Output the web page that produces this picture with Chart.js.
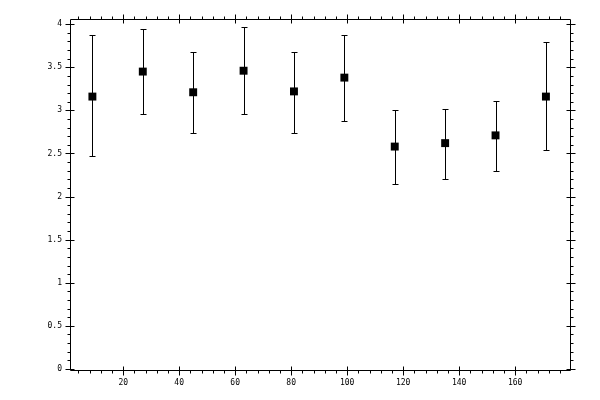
<!DOCTYPE html>
<html>
<head>
<meta charset="utf-8">
<script src="https://cdn.jsdelivr.net/npm/chart.js@4"></script>
<style>
  html, body { margin: 0; padding: 0; background: #fff; }
</style>
</head>
<body>
<canvas id="chartCanvas" width="600" height="400"></canvas>
<script>
const xValues = [9, 27, 45, 63, 81, 99, 117, 135, 153, 171];
const yValues = [3.16, 3.45, 3.21, 3.46, 3.22, 3.38, 2.58, 2.62, 2.71, 3.16];
const yUpper = [3.87, 3.94, 3.68, 3.97, 3.68, 3.88, 3.01, 3.02, 3.11, 3.79];
const yLower = [2.47, 2.96, 2.74, 2.96, 2.74, 2.88, 2.15, 2.20, 2.30, 2.54];

const xTickValues = [20, 40, 60, 80, 100, 120, 140, 160];
const xTickLabels = ["20", "40", "60", "80", "100", "120", "140", "160"];
const yTickValues = [0, 0.5, 1, 1.5, 2, 2.5, 3, 3.5, 4];
const yTickLabels = ["0", "0.5", "1", "1.5", "2", "2.5", "3", "3.5", "4"];

const crisp = v => Math.round(v) + 0.5;

// error bars under the markers
const errorBars = {
  id: "errorBars",
  beforeDatasetsDraw(chart) {
    const { ctx, scales: { x, y } } = chart;
    ctx.save();
    ctx.strokeStyle = "#000";
    ctx.lineWidth = 1;
    xValues.forEach((xv, i) => {
      const px = crisp(x.getPixelForValue(xv));
      const top = Math.round(y.getPixelForValue(yUpper[i])) + 0.5;
      const bot = Math.round(y.getPixelForValue(yLower[i])) + 0.5;
      ctx.beginPath();
      ctx.moveTo(px, top); ctx.lineTo(px, bot);
      ctx.moveTo(px - 3, top); ctx.lineTo(px + 3, top);
      ctx.moveTo(px - 3, bot); ctx.lineTo(px + 3, bot);
      ctx.stroke();
    });
    ctx.restore();
  }
};

// box frame with ticks on all four sides
const frame = {
  id: "frame",
  afterDraw(chart) {
    const { ctx, chartArea: a, scales: { x, y } } = chart;
    const L = crisp(a.left), R = crisp(a.right), T = crisp(a.top), B = crisp(a.bottom);
    ctx.save();
    ctx.strokeStyle = "#000";
    ctx.lineWidth = 1;
    ctx.beginPath();
    ctx.rect(L, T, R - L, B - T);

    for (let v = 4; v <= x.max; v += 4) {
      const px = crisp(x.getPixelForValue(v));
      if (px <= L || px >= R) continue;
      const major = v % 20 === 0;
      ctx.moveTo(px, B - (major ? 4 : 0)); ctx.lineTo(px, B + (major ? 5 : 3));
      ctx.moveTo(px, T + (major ? 4 : 0)); ctx.lineTo(px, T - (major ? 5 : 3));
    }
    for (let k = 0; k <= 40; k++) {
      const v = k / 10;
      const py = crisp(y.getPixelForValue(v));
      if (py < T || py > B) continue;
      const major = k % 5 === 0;
      ctx.moveTo(L + (major ? 4 : 0), py); ctx.lineTo(L - (major ? 5 : 3), py);
      ctx.moveTo(R - (major ? 4 : 0), py); ctx.lineTo(R + (major ? 5 : 3), py);
    }
    ctx.stroke();
    ctx.restore();
  }
};

const tickFont = { family: "'DejaVu Sans Mono', monospace", size: 8 };

new Chart(document.getElementById("chartCanvas"), {
  type: "scatter",
  data: {
    datasets: [{
      data: xValues.map((xv, i) => ({ x: xv, y: yValues[i] })),
      pointStyle: "rect",
      pointRadius: 5.6,
      pointHoverRadius: 5.6,
      backgroundColor: "#000",
      borderColor: "#000",
      borderWidth: 0
    }]
  },
  options: {
    responsive: false,
    animation: false,
    layout: { padding: { top: 19, right: 30, left: 0, bottom: 0 } },
    plugins: { legend: { display: false }, tooltip: { enabled: false } },
    scales: {
      x: {
        type: "linear",
        min: 1,
        max: 179.6,
        border: { display: false },
        grid: { display: false, drawTicks: false },
        afterBuildTicks: s => { s.ticks = xTickValues.map(v => ({ value: v })); },
        afterFit: s => { s.height = 30; },
        ticks: {
          color: "#000",
          font: tickFont,
          padding: 8,
          maxRotation: 0,
          autoSkip: false,
          callback: (v, i) => xTickLabels[i]
        }
      },
      y: {
        type: "linear",
        min: -0.012,
        max: 4.06,
        border: { display: false },
        grid: { display: false, drawTicks: false },
        afterBuildTicks: s => { s.ticks = yTickValues.map(v => ({ value: v })); },
        afterFit: s => { s.width = 70; },
        ticks: {
          color: "#000",
          font: tickFont,
          padding: 8,
          autoSkip: false,
          callback: (v, i) => yTickLabels[i]
        }
      }
    }
  },
  plugins: [errorBars, frame]
});
</script>
</body>
</html>
